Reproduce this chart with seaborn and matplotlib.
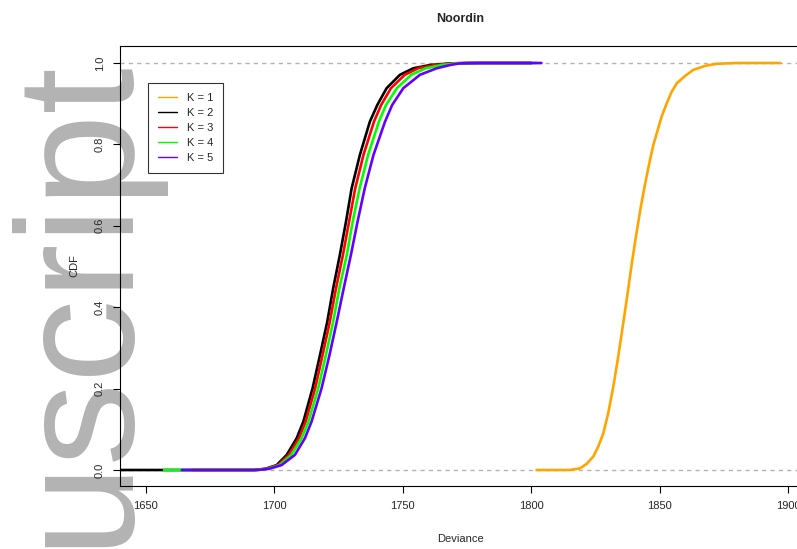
import pandas as pd
import matplotlib
matplotlib.use("Agg")
import matplotlib.pyplot as plt
import seaborn as sns

# --- DATA ---
labels = ['K = 1', 'K = 2', 'K = 3', 'K = 4', 'K = 5']
colors = ['#FFA500', '#000000', '#FF0000', '#00FF00', '#6400FF']

k1_dev = [1802.1, 1815.0, 1819.0, 1821.6, 1824.2, 1826.1, 1828.1, 1830.0, 1832.0,
          1833.6, 1835.1, 1837.2, 1839.4, 1840.6, 1842.5, 1844.4, 1846.3, 1847.6,
          1848.9, 1850.8, 1852.8, 1854.7, 1856.7, 1859.9, 1863.1, 1867.7, 1872.2,
          1880.0, 1897.0]
k1_cdf = [0.0, 0.0, 0.004, 0.015, 0.033, 0.057, 0.090, 0.139, 0.205,
          0.266, 0.328, 0.418, 0.516, 0.565, 0.639, 0.704, 0.762, 0.799,
          0.827, 0.868, 0.901, 0.929, 0.950, 0.968, 0.983, 0.993, 0.998,
          1.0, 1.0]

cdf_levels = [0.0, 0.0, 0.003, 0.012, 0.037, 0.078, 0.119, 0.201, 0.283, 0.364,
              0.446, 0.528, 0.610, 0.692, 0.774, 0.856, 0.897, 0.938, 0.971,
              0.987, 0.995, 0.999, 1.0, 1.0]
k2_dev = [1640.0, 1692.0, 1696.5, 1700.9, 1704.8, 1708.7, 1711.3, 1714.9, 1717.8, 1720.6,
          1722.9, 1725.5, 1727.9, 1730.1, 1733.3, 1737.2, 1740.1, 1743.7, 1748.9,
          1754.1, 1760.6, 1768.4, 1775.0, 1800.0]
k3_dev = [1668.0, 1692.5, 1697.0, 1701.4, 1705.6, 1709.6, 1712.2, 1715.9, 1718.8, 1721.6,
          1724.0, 1726.7, 1729.1, 1731.5, 1734.7, 1738.8, 1741.6, 1745.4, 1750.8,
          1756.0, 1762.5, 1769.5, 1776.0, 1800.0]
k4_dev = [1657.0, 1693.0, 1697.5, 1702.0, 1706.6, 1710.6, 1713.3, 1717.1, 1720.1, 1722.9,
          1725.3, 1728.2, 1730.5, 1733.2, 1736.5, 1740.7, 1743.5, 1747.7, 1753.3,
          1759.0, 1765.2, 1770.5, 1778.0, 1802.0]
k5_dev = [1664.0, 1693.5, 1698.0, 1702.8, 1708.0, 1711.9, 1714.5, 1718.4, 1721.5, 1724.3,
          1727.0, 1729.8, 1732.4, 1735.2, 1738.6, 1743.1, 1745.9, 1750.2, 1756.7,
          1763.2, 1768.4, 1772.0, 1780.0, 1804.0]

x_ticks = [1650, 1700, 1750, 1800, 1850, 1900]
y_ticks = [0.0, 0.2, 0.4, 0.6, 0.8, 1.0]

# --- BUILD LONG TABLE ---
frames = [pd.DataFrame({'Deviance': k1_dev, 'CDF': k1_cdf, 'K': labels[0]})]
for lab, dev in zip(labels[1:], [k2_dev, k3_dev, k4_dev, k5_dev]):
    frames.append(pd.DataFrame({'Deviance': dev, 'CDF': cdf_levels, 'K': lab}))
df = pd.concat(frames, ignore_index=True)

sns.set_style("ticks")
plt.rcParams['font.family'] = ['Liberation Sans', 'DejaVu Sans']

fig = plt.figure(figsize=(7.97, 5.49), dpi=100)
ax = fig.add_axes([120 / 797, 1 - 486 / 549, 680 / 797, 440 / 549])
ax.patch.set_alpha(0)

# big grey watermark behind everything
fig.text(123 / 797, 1 - 56 / 549, 'uscript', rotation=90, rotation_mode='anchor',
         ha='right', va='baseline', fontsize=120, color='#b3b3b3', zorder=-5)

# 0 / 1 reference lines
for yv in [0.0, 1.0]:
    ax.axhline(yv, color='#b3b3b3', lw=1.0, linestyle=(0, (3, 3)), zorder=1)

sns.lineplot(data=df, x='Deviance', y='CDF', hue='K', palette=dict(zip(labels, colors)),
             sort=False, estimator=None, linewidth=1.9, ax=ax, legend=False, zorder=2)

handles = [plt.Line2D([], [], color=c, lw=1.0) for c in colors]
leg = ax.legend(handles, labels, loc='upper left', bbox_to_anchor=(0.041, 0.917),
                borderaxespad=0, fontsize=8, frameon=True, fancybox=False,
                edgecolor='black', handlelength=1.75, handletextpad=0.85,
                labelspacing=0.45, borderpad=0.9)
leg.get_frame().set_linewidth(0.8)

ax.set_xlim(1639.9, 1904.7)
ax.set_ylim(-0.0393, 1.0418)
ax.set_xticks(x_ticks)
ax.set_yticks(y_ticks)
ax.set_xticklabels([str(v) for v in x_ticks], fontsize=8)
ax.set_yticklabels([f'{v:.1f}' for v in y_ticks], fontsize=8, rotation=90, va='center')
ax.tick_params(axis='both', direction='out', length=5, width=0.8, color='black', pad=6)

for s in ['left', 'bottom', 'top', 'right']:
    ax.spines[s].set_color('black')
    ax.spines[s].set_linewidth(0.8)

ax.set_title('Noordin', fontsize=9, fontweight='bold', pad=17)
ax.set_xlabel('Deviance', fontsize=8, labelpad=16)
ax.set_ylabel('CDF', fontsize=8, labelpad=11)

fig.savefig('out.png', dpi=100)
